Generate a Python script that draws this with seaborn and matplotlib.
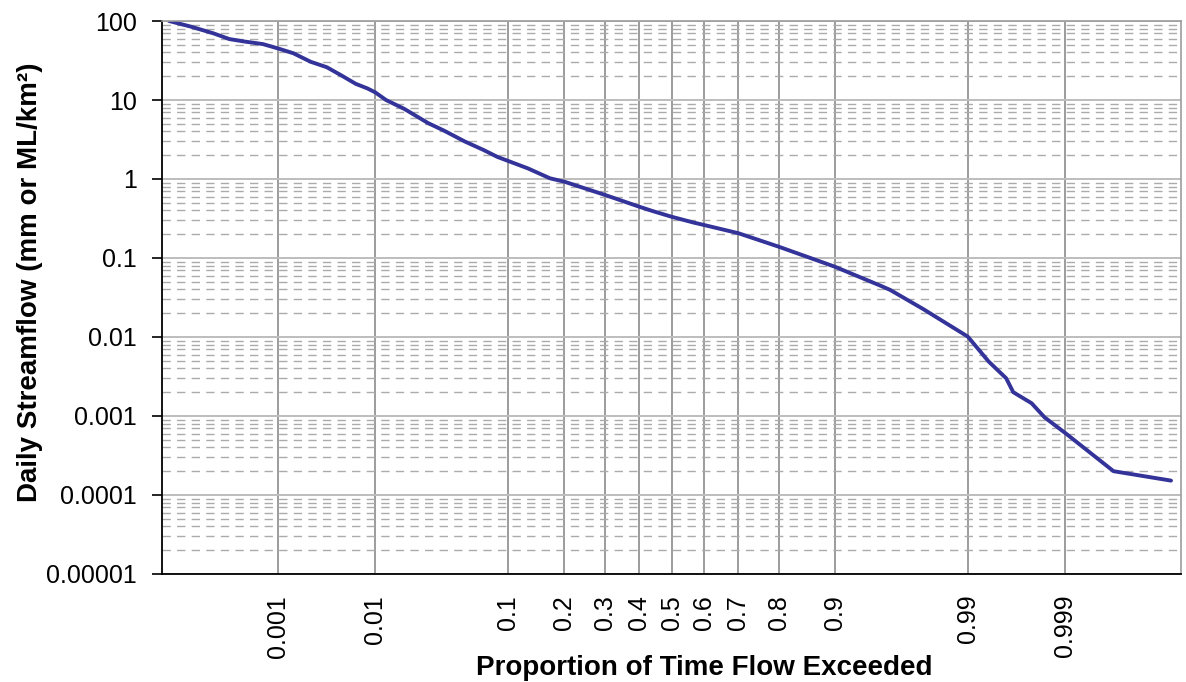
import numpy as np
import matplotlib
matplotlib.use('Agg')
import matplotlib.pyplot as plt
import matplotlib.ticker as mticker
import seaborn as sns
from statistics import NormalDist

# proportion of time exceeded vs daily flow
exceed = [0.00004, 0.00008, 0.00016, 0.00026, 0.0004, 0.00067, 0.001, 0.0015,
          0.0023, 0.0034, 0.0047, 0.0066, 0.0085, 0.01, 0.0125, 0.018, 0.028,
          0.037, 0.052, 0.07, 0.086, 0.1, 0.13, 0.17, 0.2, 0.3, 0.4, 0.44, 0.5,
          0.57, 0.6, 0.7, 0.8, 0.9, 0.95, 0.957, 0.976, 0.99, 0.9936, 0.9957,
          0.99635, 0.99765, 0.9983, 0.999, 0.99974, 0.999956]
flow = [100, 85, 70, 59, 55, 51, 45, 39, 30.5, 26, 20.7, 16, 14, 12.5, 10,
        7.7, 5.1, 4.1, 3.0, 2.33, 1.9, 1.69, 1.36, 1.02, 0.925, 0.63, 0.446,
        0.394, 0.333, 0.28, 0.262, 0.206, 0.139, 0.0776, 0.0443, 0.0394,
        0.0225, 0.0101, 0.0049, 0.0030, 0.0020, 0.00145, 0.00096, 0.00061,
        0.0002, 0.000152]

xtick_vals = [0.001, 0.01, 0.1, 0.2, 0.3, 0.4, 0.5, 0.6, 0.7, 0.8, 0.9, 0.99, 0.999]
xtick_labels = ['0.001', '0.01', '0.1', '0.2', '0.3', '0.4', '0.5', '0.6',
                '0.7', '0.8', '0.9', '0.99', '0.999']
ytick_vals = [1e-5, 1e-4, 1e-3, 1e-2, 1e-1, 1, 10, 100]
ytick_labels = ['0.00001', '0.0001', '0.001', '0.01', '0.1', '1', '10', '100']

nd = NormalDist()
_ppf = np.vectorize(nd.inv_cdf, otypes=[float])
_cdf = np.vectorize(nd.cdf, otypes=[float])


def prob_fwd(p):
    p = np.clip(np.asarray(p, dtype=float), 1e-12, 1 - 1e-12)
    return _ppf(p)


def prob_inv(z):
    return _cdf(np.asarray(z, dtype=float))


sns.set_style("white")
plt.rcParams['font.family'] = ['Liberation Sans', 'DejaVu Sans']
plt.rcParams['text.color'] = 'black'
plt.rcParams['axes.labelcolor'] = 'black'
plt.rcParams['xtick.color'] = 'black'
plt.rcParams['ytick.color'] = 'black'

fig, ax = plt.subplots(figsize=(11.86, 6.82), dpi=100)
fig.subplots_adjust(left=0.1366, right=0.9958, top=0.9692, bottom=0.1584)

sns.lineplot(x=exceed, y=flow, ax=ax, color='#333399', linewidth=2.8,
             sort=False, estimator=None)

# normal probability x axis, log y axis
ax.set_xscale('function', functions=(prob_fwd, prob_inv))
ax.set_yscale('log')
ax.set_xlim(nd.cdf(-4), nd.cdf(4))
ax.set_ylim(1e-5, 100)

ax.set_xticks(xtick_vals, xtick_labels, rotation=90, fontsize=18)
ax.xaxis.set_minor_locator(mticker.NullLocator())
ax.set_yticks(ytick_vals, ytick_labels, fontsize=18)
ax.yaxis.set_minor_locator(mticker.LogLocator(base=10, subs=np.arange(2, 10), numticks=100))
ax.yaxis.set_minor_formatter(mticker.NullFormatter())

ax.grid(which='major', axis='x', color='#9c9c9c', linewidth=1.4)
ax.grid(which='major', axis='y', color='#bdbdbd', linewidth=1.4)
ax.grid(which='minor', axis='y', color='#ababab', linewidth=1.0, linestyle=(0, (6, 4.5)))

ax.tick_params(axis='y', which='major', left=True, length=7, width=1.2, color='black',
               labelcolor='black', pad=11)
ax.tick_params(axis='y', which='minor', left=False, length=0)
ax.tick_params(axis='x', which='major', bottom=False, length=0, pad=15, labelcolor='black')

for side in ['left', 'bottom']:
    ax.spines[side].set_color('black')
    ax.spines[side].set_linewidth(1.3)
for side in ['top', 'right']:
    ax.spines[side].set_color('#9c9c9c')
    ax.spines[side].set_linewidth(1.2)

ax.set_xlabel('Proportion of Time Flow Exceeded', fontsize=20, fontweight='bold', color='black')
ax.xaxis.label.set_va('baseline')
ax.xaxis.set_label_coords(0.532, -0.183)
ax.set_ylabel('Daily Streamflow (mm or ML/km²)', fontsize=20, fontweight='bold', color='black')
ax.yaxis.set_label_coords(-0.117, 0.527)

plt.savefig('out.png', dpi=100)
